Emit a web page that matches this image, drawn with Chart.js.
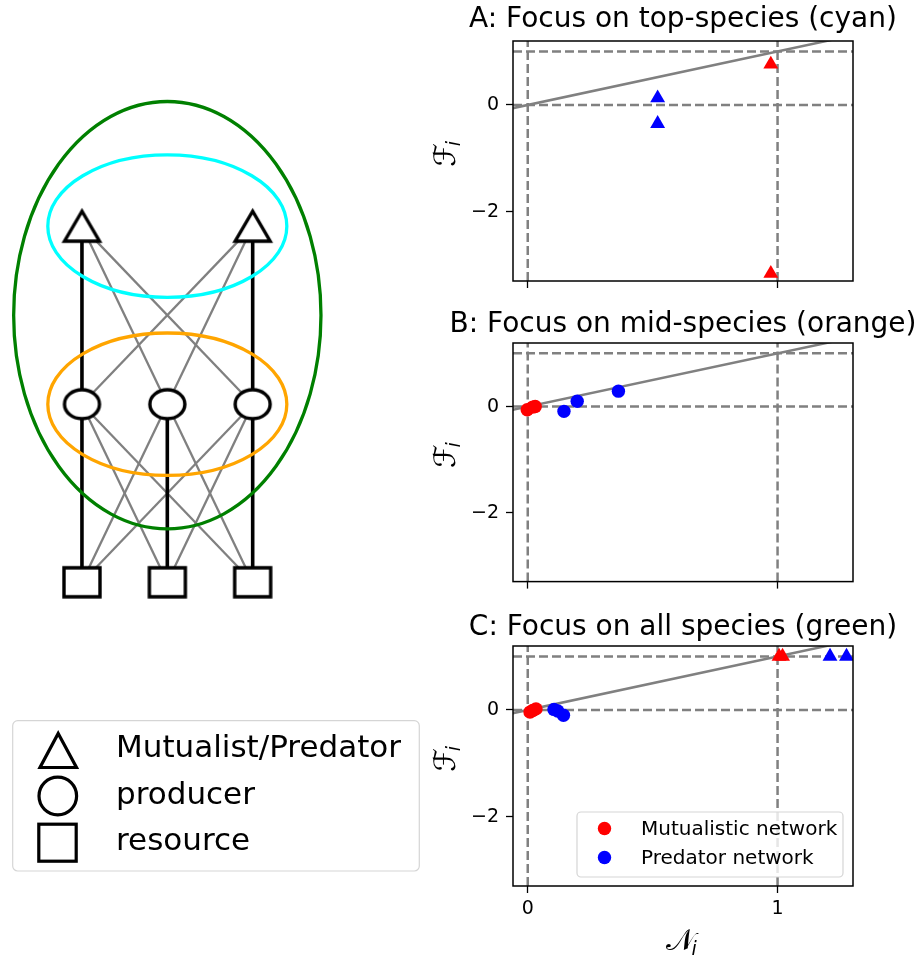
<!DOCTYPE html>
<html lang="en">
<head>
<meta charset="UTF-8">
<title>Focus on species</title>
<script src="https://cdn.jsdelivr.net/npm/chart.js"></script>
<style>
    html, body { margin: 0; padding: 0; background: #fff; overflow: hidden; }
    body { width: 918px; height: 958px; position: relative; }
    .box { position: absolute; }
</style>
</head>
<body>
<div class="box" style="left:0;top:0;width:420px;height:958px"><canvas id="net"></canvas></div>
<div class="box" style="left:420px;top:0;width:498px;height:300px"><canvas id="panelA"></canvas></div>
<div class="box" style="left:420px;top:300px;width:498px;height:300px"><canvas id="panelB"></canvas></div>
<div class="box" style="left:420px;top:600px;width:498px;height:358px"><canvas id="panelC"></canvas></div>

<script>
// ---- shared axes of the three panels
const xLimits = [-0.059, 1.302];
const yLimits = [-3.29, 1.195];
const xTicks = [0, 1];
const yTicks = [-2, 0];
const refX = [0, 1];
const refY = [0, 1];
const identityX = [-0.2, 1.5];

// ---- A: top species (triangles)
const aMutX = [0.973, 0.973];
const aMutY = [0.76, -3.15];
const aPredX = [0.52, 0.52];
const aPredY = [0.13, -0.35];

// ---- B: mid species (circles)
const bMutX = [-0.002, 0.02, 0.03];
const bMutY = [-0.06, -0.01, 0.0];
const bPredX = [0.145, 0.198, 0.363];
const bPredY = [-0.09, 0.10, 0.29];

// ---- C: all species
const cMutCircX = [0.009, 0.02, 0.033];
const cMutCircY = [-0.04, -0.01, 0.02];
const cPredCircX = [0.105, 0.12, 0.143];
const cPredCircY = [0.01, -0.02, -0.10];
const cMutTriX = [1.006, 1.02];
const cMutTriY = [1.0, 1.0];
const cPredTriX = [1.21, 1.276];
const cPredTriY = [1.0, 1.0];

const panelTitles = ['A: Focus on top-species (cyan)', 'B: Focus on mid-species (orange)', 'C: Focus on all species (green)'];
const seriesLabels = ['Mutualistic network', 'Predator network'];

// ---- network sketch: x positions per level (resource, producer, top)
const levelX = [[0, 1, 2], [0, 1, 2], [0, 2]];
const levelY = [0, 1, 2];
const netLimitsX = [-0.96, 3.96];
const netLimitsY = [-2.11, 3.27];
const ringCx = [1, 1, 1];
const ringCy = [1.5, 2, 1];
const ringRx = [1.8, 1.4, 1.4];
const ringRy = [1.2, 0.4, 0.4];
const ringColors = ['#008000', '#00ffff', '#ffa500'];
const nodeLabels = ['Mutualist/Predator', 'producer', 'resource'];

const FONT = "'DejaVu Sans', sans-serif";
const RED = '#ff0000', BLUE = '#0000ff', GRAY = '#808080';

function points(xs, ys) { return xs.map((x, i) => ({ x: x, y: ys[i] })); }
function tickText(v) { return v < 0 ? '\u2212' + Math.abs(v) : String(v); }

function markers(label, xs, ys, color, style, r) {
    return {
        label: label, data: points(xs, ys), backgroundColor: color, borderColor: color,
        borderWidth: 0, pointStyle: style, pointRadius: r, pointHoverRadius: r,
        showLine: false, clip: 0, order: 0
    };
}

function identityLine() {
    return {
        label: 'identity', data: points(identityX, identityX), showLine: true,
        borderColor: GRAY, borderWidth: 2.5, pointRadius: 0, clip: 0, order: 10
    };
}

// text with a subscript, e.g. F_i
function mathLabel(ctx, main, sub, x, y, rotate) {
    ctx.save();
    ctx.translate(x, y);
    if (rotate) ctx.rotate(-Math.PI / 2);
    ctx.fillStyle = '#000';
    ctx.textBaseline = 'alphabetic';
    ctx.font = "30px 'DejaVu Sans'";
    const w = ctx.measureText(main).width;
    ctx.textAlign = 'left';
    ctx.fillText(main, -w / 2, 0);
    ctx.font = "italic 19px 'DejaVu Sans'";
    ctx.fillText(sub, w / 2 - 3, 5);
    ctx.restore();
}

function panelDeco(spec) {
    return {
        id: 'panelDeco',
        beforeDatasetsDraw(chart) {
            const { ctx, chartArea: a, scales: { x, y } } = chart;
            ctx.save();
            ctx.beginPath();
            ctx.rect(a.left, a.top, a.right - a.left, a.bottom - a.top);
            ctx.clip();
            ctx.strokeStyle = GRAY;
            ctx.lineWidth = 2.5;
            ctx.setLineDash([9, 4]);
            refX.forEach(v => {
                const p = x.getPixelForValue(v);
                ctx.beginPath(); ctx.moveTo(p, a.bottom); ctx.lineTo(p, a.top); ctx.stroke();
            });
            refY.forEach(v => {
                const p = y.getPixelForValue(v);
                ctx.beginPath(); ctx.moveTo(a.left, p); ctx.lineTo(a.right, p); ctx.stroke();
            });
            ctx.restore();
        },
        afterDatasetsDraw(chart) {
            const { ctx, chartArea: a } = chart;
            ctx.save();
            ctx.strokeStyle = '#000';
            ctx.lineWidth = 1.5;
            ctx.strokeRect(a.left, a.top, a.right - a.left, a.bottom - a.top);
            ctx.restore();
        },
        afterDraw(chart) {
            const { ctx, chartArea: a } = chart;
            const mid = (a.top + a.bottom) / 2;
            ctx.save();
            ctx.fillStyle = '#000';
            ctx.font = '28px ' + FONT;
            ctx.textAlign = 'center';
            ctx.textBaseline = 'alphabetic';
            ctx.fillText(spec.title, (a.left + a.right) / 2, a.top - spec.titleGap);
            ctx.restore();

            mathLabel(ctx, '\u2131', 'i', 35, mid - 6, true);

            if (spec.showX) {
                mathLabel(ctx, '\uD835\uDCA9', 'i', (a.left + a.right) / 2 - 3, 350, false);
            }
            if (spec.legend) {
                const w = 266, h = 65;
                const lx = a.right - 10 - w, ly = a.bottom - 9 - h;
                ctx.save();
                ctx.fillStyle = 'rgba(255,255,255,0.8)';
                ctx.strokeStyle = '#d5d5d5';
                ctx.lineWidth = 1.2;
                ctx.beginPath();
                ctx.roundRect(lx, ly, w, h, 4);
                ctx.fill(); ctx.stroke();
                const colors = [RED, BLUE];
                seriesLabels.forEach((t, i) => {
                    const yy = ly + 16.5 + i * 29;
                    ctx.fillStyle = colors[i];
                    ctx.beginPath(); ctx.arc(lx + 27.5, yy, 6.7, 0, 2 * Math.PI); ctx.fill();
                    ctx.fillStyle = '#000';
                    ctx.font = '20px ' + FONT;
                    ctx.textAlign = 'left';
                    ctx.textBaseline = 'middle';
                    ctx.fillText(t, lx + 64, yy + 1);
                });
                ctx.restore();
            }
        }
    };
}

function makePanel(id, spec, datasets) {
    const axisCommon = {
        type: 'linear',
        grid: { drawOnChartArea: false, drawTicks: true, tickLength: 7, tickColor: '#000', tickWidth: 1.3, color: '#000' },
        border: { display: false }
    };
    return new Chart(document.getElementById(id), {
        type: 'scatter',
        data: { datasets: datasets.concat([identityLine()]) },
        options: {
            responsive: true,
            maintainAspectRatio: false,
            animation: false,
            events: [],
            layout: { padding: { left: 0, right: 65, top: spec.padTop, bottom: 0 }, autoPadding: false },
            plugins: { legend: { display: false }, tooltip: { enabled: false } },
            scales: {
                x: Object.assign({}, axisCommon, {
                    min: xLimits[0], max: xLimits[1],
                    afterBuildTicks: s => { s.ticks = xTicks.map(v => ({ value: v })); },
                    afterFit: s => { s.height = spec.xHeight; },
                    ticks: { display: spec.showX, color: '#000', padding: 5, font: { size: 19, family: FONT }, callback: v => tickText(v) }
                }),
                y: Object.assign({}, axisCommon, {
                    min: yLimits[0], max: yLimits[1],
                    afterBuildTicks: s => { s.ticks = yTicks.map(v => ({ value: v })); },
                    afterFit: s => { s.width = 93; },
                    ticks: { color: '#000', padding: 7, font: { size: 19, family: FONT }, callback: v => tickText(v) }
                })
            }
        },
        plugins: [panelDeco(spec)]
    });
}

makePanel('panelA', { title: panelTitles[0], padTop: 41, xHeight: 19, titleGap: 14, showX: false }, [
    markers(seriesLabels[0], aMutX, aMutY, RED, 'triangle', 8.6),
    markers(seriesLabels[1], aPredX, aPredY, BLUE, 'triangle', 8.6)
]);

makePanel('panelB', { title: panelTitles[1], padTop: 43, xHeight: 16, titleGap: 11, showX: false }, [
    markers(seriesLabels[0], bMutX, bMutY, RED, 'circle', 6.7),
    markers(seriesLabels[1], bPredX, bPredY, BLUE, 'circle', 6.7)
]);

makePanel('panelC', { title: panelTitles[2], padTop: 46, xHeight: 72, titleGap: 11, showX: true, legend: true }, [
    markers(seriesLabels[0], cMutCircX, cMutCircY, RED, 'circle', 6.7),
    markers(seriesLabels[0], cMutTriX, cMutTriY, RED, 'triangle', 8.6),
    markers(seriesLabels[1], cPredCircX, cPredCircY, BLUE, 'circle', 6.7),
    markers(seriesLabels[1], cPredTriX, cPredTriY, BLUE, 'triangle', 8.6)
]);

// ---- network sketch
function markerImage(kind, w, h, lw) {
    const c = document.createElement('canvas');
    c.width = Math.ceil(w + 4 * lw);
    c.height = Math.ceil(h + 4 * lw);
    const g = c.getContext('2d');
    const cx = c.width / 2, cy = c.height / 2;
    g.fillStyle = '#fff';
    g.strokeStyle = '#000';
    g.lineWidth = lw;
    g.beginPath();
    if (kind === 'tri') {
        g.moveTo(cx, cy - h / 2); g.lineTo(cx + w / 2, cy + h / 2); g.lineTo(cx - w / 2, cy + h / 2); g.closePath();
    } else if (kind === 'ell') {
        g.ellipse(cx, cy, w / 2, h / 2, 0, 0, 2 * Math.PI);
    } else {
        g.rect(cx - w / 2, cy - h / 2, w, h);
    }
    g.fill();
    g.stroke();
    return c;
}

const nodeImages = [markerImage('rect', 36, 29, 3.4), markerImage('ell', 35, 29, 3.4), markerImage('tri', 35, 30, 3.4)];

const netSets = [];
for (let l = 0; l < 2; l++) {
    levelX[l].forEach(xa => {
        levelX[l + 1].forEach(xb => {
            const direct = xa === xb;
            netSets.push({
                data: [{ x: xa, y: levelY[l] }, { x: xb, y: levelY[l + 1] }],
                showLine: true, pointRadius: 0,
                borderColor: direct ? '#000' : GRAY,
                borderWidth: direct ? 3.6 : 2.3,
                order: direct ? 5 : 6
            });
        });
    });
}
levelX.forEach((xs, l) => {
    netSets.push({
        data: xs.map(x => ({ x: x, y: levelY[l] })),
        showLine: false, pointStyle: nodeImages[l], pointRadius: 12, pointHoverRadius: 12, order: 0
    });
});

const netDeco = {
    id: 'netDeco',
    afterDatasetsDraw(chart) {
        const { ctx, scales: { x, y } } = chart;
        ctx.save();
        ctx.lineWidth = 3.3;
        ringCx.forEach((cx, i) => {
            const px = x.getPixelForValue(cx), py = y.getPixelForValue(ringCy[i]);
            const rx = Math.abs(x.getPixelForValue(cx + ringRx[i]) - px);
            const ry = Math.abs(y.getPixelForValue(ringCy[i] + ringRy[i]) - py);
            ctx.strokeStyle = ringColors[i];
            ctx.beginPath();
            ctx.ellipse(px, py, rx, ry, 0, 0, 2 * Math.PI);
            ctx.stroke();
        });
        ctx.restore();
    },
    afterDraw(chart) {
        const ctx = chart.ctx;
        ctx.save();
        ctx.strokeStyle = '#d5d5d5';
        ctx.lineWidth = 1.2;
        ctx.fillStyle = '#fff';
        ctx.beginPath();
        ctx.roundRect(12.7, 720.7, 406.6, 150.3, 5);
        ctx.fill(); ctx.stroke();

        ctx.strokeStyle = '#000';
        ctx.lineWidth = 3.2;
        ctx.beginPath();
        ctx.moveTo(58.2, 733.5); ctx.lineTo(76.5, 767.5); ctx.lineTo(40, 767.5); ctx.closePath();
        ctx.stroke();
        ctx.beginPath();
        ctx.arc(57.8, 796, 18.8, 0, 2 * Math.PI);
        ctx.stroke();
        ctx.strokeRect(38.8, 824.2, 37.4, 37);

        ctx.fillStyle = '#000';
        ctx.font = '31px ' + FONT;
        ctx.textAlign = 'left';
        ctx.textBaseline = 'alphabetic';
        const baselines = [757, 803.5, 850];
        nodeLabels.forEach((t, i) => ctx.fillText(t, 116, baselines[i]));
        ctx.restore();
    }
};

new Chart(document.getElementById('net'), {
    type: 'scatter',
    data: { datasets: netSets },
    options: {
        responsive: true,
        maintainAspectRatio: false,
        animation: false,
        events: [],
        layout: { padding: 0, autoPadding: false },
        plugins: { legend: { display: false }, tooltip: { enabled: false } },
        scales: {
            x: { display: false, min: netLimitsX[0], max: netLimitsX[1] },
            y: { display: false, min: netLimitsY[0], max: netLimitsY[1] }
        }
    },
    plugins: [netDeco]
});
</script>
</body>
</html>
